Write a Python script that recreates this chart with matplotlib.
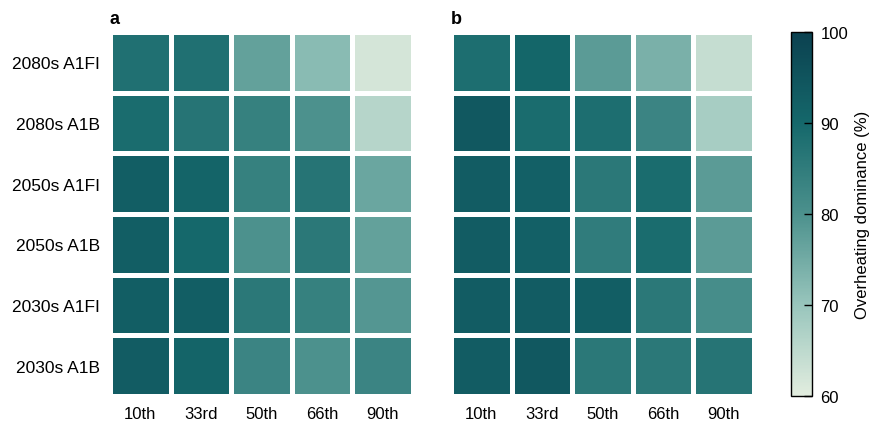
import matplotlib
matplotlib.use('Agg')
import matplotlib.pyplot as plt
import numpy as np
from matplotlib.colors import LinearSegmentedColormap, Normalize
from matplotlib.cm import ScalarMappable

plt.rcParams['font.family'] = ['Liberation Sans', 'DejaVu Sans']

rows = ['2080s A1FI', '2080s A1B', '2050s A1FI', '2050s A1B', '2030s A1FI', '2030s A1B']
cols = ['10th', '33rd', '50th', '66th', '90th']

# overheating dominance (%), rows top->bottom
vals_a = [
  [88, 88, 77, 72, 62],
  [89, 87, 84, 80, 66],
  [92.5, 91, 84, 87, 76],
  [92.5, 90, 80, 86, 77],
  [92.5, 92.5, 86, 84, 79],
  [93, 91, 83, 80, 83],
]
vals_b = [
  [88.5, 90.5, 78, 74, 64],
  [94, 89, 88.5, 83, 68],
  [93, 92, 86, 89, 78],
  [93, 92, 85, 89, 78],
  [93, 93, 92.5, 86, 81],
  [93, 94, 86, 86, 87],
]

cmap = LinearSegmentedColormap.from_list('teal', [
  (0.0, '#e2eddf'), (0.25, '#98c5bc'), (0.5, '#4c918d'),
  (0.75, '#15686b'), (1.0, '#0b4150')])
norm = Normalize(60, 100)

fig = plt.figure(figsize=(8.72, 4.27), dpi=100)
axa = fig.add_axes([0.1261, 0.0703, 0.3475, 0.8525])
axb = fig.add_axes([0.5172, 0.0703, 0.3475, 0.8525])
cax = fig.add_axes([0.9071, 0.0703, 0.0241, 0.8525])

for ax, v, lab in [(axa, vals_a, 'a'), (axb, vals_b, 'b')]:
  ax.pcolormesh(np.array(v), cmap=cmap, norm=norm, edgecolors='white', linewidth=2.5)
  ax.set_xlim(0, len(cols))
  ax.set_ylim(len(rows), 0)
  ax.set_xticks(np.arange(len(cols)) + 0.5)
  ax.set_xticklabels(cols, fontsize=12)
  ax.set_yticks(np.arange(len(rows)) + 0.5)
  if ax is axa:
    ax.set_yticklabels(rows, fontsize=12.5)
  else:
    ax.set_yticklabels([])
  ax.tick_params(length=0, pad=7)
  for s in ax.spines.values():
    s.set_visible(False)
  ax.text(0, 1.015, lab, transform=ax.transAxes, fontsize=13, fontweight='bold', va='bottom')

cb = fig.colorbar(ScalarMappable(norm=norm, cmap=cmap), cax=cax)
cb.set_ticks([60, 70, 80, 90, 100])
cb.ax.tick_params(direction='in', length=6, width=1, labelsize=12, pad=6)
cb.outline.set_linewidth(1)
cb.set_label('Overheating dominance (%)', fontsize=12, labelpad=5)

fig.savefig('out.png', dpi=100)
